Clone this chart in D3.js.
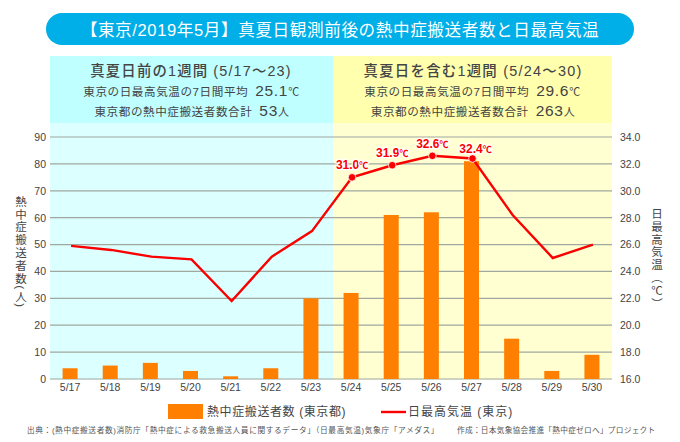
<!DOCTYPE html>
<html lang="ja">
<head>
<meta charset="utf-8">
<script src="https://cdn.jsdelivr.net/npm/d3@7"></script>
<style>
  html, body { margin: 0; padding: 0; background: #fff; }
  svg { display: block; font-family: "Liberation Sans", "Noto Sans CJK JP", sans-serif; }
  .vtext { writing-mode: vertical-rl; }
</style>
</head>
<body>
<svg id="chart" width="680" height="442"></svg>
<script>
const days = ["5/17","5/18","5/19","5/20","5/21","5/22","5/23","5/24","5/25","5/26","5/27","5/28","5/29","5/30"];
const patients = [4,5,6,3,1,4,30,32,61,62,81,15,3,9];
const maxTemp = [25.9,25.6,25.1,24.9,21.8,25.1,27.0,31.0,31.9,32.6,32.4,28.2,25.0,26.0];
const leftTicks = [0,10,20,30,40,50,60,70,80,90];
const rightTicks = [16,18,20,22,24,26,28,30,32,34];
const labelledDays = ["5/24","5/25","5/26","5/27"];
const weekStart = "5/24";

const TEXT = "#444";
const ORANGE = "#ff8000";
const RED = "#fa0000";

const svg = d3.select("#chart");
const x = d3.scaleBand().domain(days).range([50, 612]);
const yL = d3.scaleLinear().domain([0, 90]).range([379, 137]);
const yR = d3.scaleLinear().domain([16, 34]).range([379, 137]);
const split = x(weekStart) + 2.5;

// Title pill
svg.append("rect").attr("x", 46).attr("y", 13).attr("width", 588).attr("height", 32)
  .attr("rx", 16).attr("fill", "#00aee8");
svg.append("text").attr("x", 340).attr("y", 35.5).attr("text-anchor", "middle")
  .attr("fill", "#fff").attr("font-size", 16.6).attr("letter-spacing", 0.6)
  .text("【東京/2019年5月】真夏日観測前後の熱中症搬送者数と日最高気温");

// Panels
const panel = (x0, x1, head, body) => {
  svg.append("rect").attr("x", x0).attr("y", 56).attr("width", x1 - x0).attr("height", 67.5).attr("fill", head);
  svg.append("rect").attr("x", x0).attr("y", 123.5).attr("width", x1 - x0).attr("height", 256).attr("fill", body);
};
panel(50, split, "#bfffff", "#dcffff");
panel(split, 612, "#ffffae", "#ffffd2");

const headText = (cx, y, size, str, weight) =>
  svg.append("text").attr("x", cx).attr("y", y).attr("text-anchor", "middle")
    .attr("fill", TEXT).attr("font-size", size).attr("font-weight", weight || 400).text(str);

const statLine = (cx, y, label, value, unit) => {
  const t = headText(cx, y, 11.6, label);
  t.attr("letter-spacing", 0.55);
  t.append("tspan").attr("dx", 7).attr("font-size", 15.5).attr("letter-spacing", 0.7).text(value);
  t.append("tspan").attr("font-size", 11).text(unit);
};

headText(191, 76, 14.4, "真夏日前の1週間 (5/17〜23)", 500).attr("letter-spacing", 1.15);
statLine(191.5, 96, "東京の日最高気温の7日間平均", "25.1", "℃");
statLine(192, 116, "東京都の熱中症搬送者数合計", "53", "人");
headText(473, 76, 14.4, "真夏日を含む1週間 (5/24〜30)", 500).attr("letter-spacing", 1.25);
statLine(472.5, 96, "東京の日最高気温の7日間平均", "29.6", "℃");
statLine(473, 116, "東京都の熱中症搬送者数合計", "263", "人");

// Grid lines
svg.append("g").selectAll("line").data(leftTicks).join("line")
  .attr("x1", 50).attr("x2", 612)
  .attr("y1", d => yL(d)).attr("y2", d => yL(d))
  .attr("stroke", "#a0a89f").attr("stroke-width", 1.2);

// Axes
const axisLeft = d3.axisLeft(yL).tickValues(leftTicks).tickSize(0).tickPadding(4);
const axisRight = d3.axisRight(yR).tickValues(rightTicks).tickSize(0).tickPadding(8)
  .tickFormat(d3.format(".1f"));
const axisBottom = d3.axisBottom(x).tickSize(0).tickPadding(0);
[
  svg.append("g").attr("transform", "translate(50,0)").call(axisLeft),
  svg.append("g").attr("transform", "translate(612,0)").call(axisRight),
  svg.append("g").attr("transform", "translate(0,384)").call(axisBottom)
].forEach(g => {
  g.select(".domain").remove();
  g.selectAll("text").attr("fill", TEXT).attr("font-size", 10.5).attr("font-family", "inherit");
});

// Bars
const barW = 15;
svg.append("g").selectAll("rect").data(days).join("rect")
  .attr("x", d => x(d) + x.bandwidth() / 2 - barW / 2)
  .attr("width", barW)
  .attr("y", (d, i) => yL(patients[i]))
  .attr("height", (d, i) => yL(0) - yL(patients[i]))
  .attr("fill", ORANGE);

// Temperature line
const line = d3.line().x(d => x(d) + x.bandwidth() / 2 + 1).y((d, i) => yR(maxTemp[i]));
svg.append("path").datum(days).attr("d", line)
  .attr("fill", "none").attr("stroke", RED).attr("stroke-width", 2.4);

// Labelled points
const labelled = days.map((d, i) => ({ d, t: maxTemp[i] })).filter(p => labelledDays.includes(p.d));
svg.append("g").selectAll("circle").data(labelled).join("circle")
  .attr("cx", p => x(p.d) + x.bandwidth() / 2 + 1).attr("cy", p => yR(p.t)).attr("r", 3.8)
  .attr("fill", RED).attr("stroke", "#fff").attr("stroke-width", 0.8);
const tempLabels = svg.append("g").selectAll("text").data(labelled).join("text")
  .attr("x", p => x(p.d) + x.bandwidth() / 2 + (p.d === "5/27" ? 4 : 1))
  .attr("y", p => yR(p.t) - (p.d === "5/27" ? 6 : 8))
  .attr("text-anchor", "middle")
  .attr("fill", RED).attr("font-size", 12).attr("font-weight", 700)
  .attr("stroke", "#fff").attr("stroke-width", 2.5).attr("paint-order", "stroke");
tempLabels.append("tspan").text(p => p.t.toFixed(1));
tempLabels.append("tspan").attr("font-size", 9).text("℃");

// Vertical axis titles
const vTitle = (cx, cy, str) =>
  svg.append("text").attr("class", "vtext").attr("x", cx).attr("y", cy)
    .attr("text-anchor", "middle").attr("fill", TEXT).attr("font-size", 11.5)
    .attr("letter-spacing", 1.3).text(str);
vTitle(20, 252, "熱中症搬送者数(人)");
vTitle(656, 259, "日最高気温（℃）");

// Legend
svg.append("rect").attr("x", 168).attr("y", 404).attr("width", 35).attr("height", 15).attr("fill", ORANGE);
svg.append("text").attr("x", 207).attr("y", 416).attr("fill", TEXT).attr("font-size", 12)
  .attr("letter-spacing", 0.6).text("熱中症搬送者数 (東京都)");
svg.append("line").attr("x1", 381).attr("x2", 406).attr("y1", 412).attr("y2", 412)
  .attr("stroke", RED).attr("stroke-width", 2.4);
svg.append("text").attr("x", 408).attr("y", 416).attr("fill", TEXT).attr("font-size", 12)
  .attr("letter-spacing", 1).text("日最高気温 (東京)");

// Source note
svg.append("text").attr("x", 27).attr("y", 433).attr("fill", "#555").attr("font-size", 7.7)
  .attr("letter-spacing", 0.62)
  .text("出典：(熱中症搬送者数)消防庁「熱中症による救急搬送人員に関するデータ」（日最高気温)気象庁「アメダス」");
svg.append("text").attr("x", 457).attr("y", 433).attr("fill", "#555").attr("font-size", 7.7)
  .attr("letter-spacing", 0.25)
  .text("作成：日本気象協会推進「熱中症ゼロへ」プロジェクト");
</script>
</body>
</html>
